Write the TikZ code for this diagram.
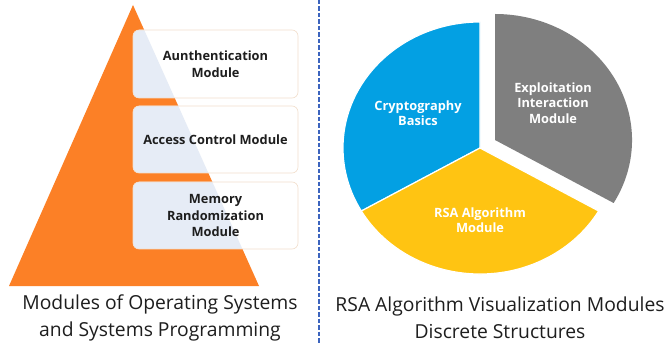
\documentclass[tikz,border=0pt]{standalone}
\usepackage{fontspec}
\setmainfont{Open Sans}
\definecolor{pyrorange}{RGB}{252,128,38}
\definecolor{boxtint}{RGB}{230,236,246}
\definecolor{boxedge}{RGB}{242,222,204}
\definecolor{pieblue}{RGB}{3,160,227}
\definecolor{pieyellow}{RGB}{255,196,18}
\definecolor{piegray}{RGB}{127,127,127}
\definecolor{divblue}{RGB}{60,100,190}
\definecolor{inktext}{RGB}{30,30,30}
\begin{document}
\begin{tikzpicture}[x=1pt,y=-1pt,
  modbox/.style={draw=boxedge, line width=0.6pt, fill=white, rounded corners=6pt,
    minimum width=165pt, inner sep=0pt,
    path picture={\fill[boxtint] (apex) -- (baseR) -- (baseL) -- cycle;}},
  boxtext/.style={font=\bfseries\fontsize{12.8}{16.5}\selectfont, align=center, text=inktext},
  pietext/.style={font=\bfseries\fontsize{12.8}{15.5}\selectfont, align=center, text=white},
  caption/.style={font=\fontsize{19.3}{27.5}\selectfont, align=center, text=inktext}]
\useasboundingbox (0,0) rectangle (671,344);
\fill[white] (0,0) rectangle (671,344);

% pyramid
\coordinate (apex) at (133,5);
\coordinate (baseR) at (259,286);
\coordinate (baseL) at (9,286);
\fill[pyrorange] (apex) -- (baseR) -- (baseL) -- cycle;

% module boxes on the pyramid
\node[modbox, minimum height=68pt, boxtext] (auth) at (215.5,64) {Aunthentication\\Module};
\node[modbox, minimum height=67pt, boxtext] (access) at (215.5,139.5) {Access Control Module};
\node[modbox, minimum height=67pt, boxtext] (memory) at (215.5,215.5) {Memory\\Randomization\\Module};

% dashed divider
\coordinate (divtop) at (319,0);
\coordinate (divbot) at (319,344);
\draw[divblue, line width=1.3pt, dash pattern=on 4.5pt off 2pt] (divtop) -- (divbot);

% pie chart
\begin{scope}[shift={(480,148)}, yscale=-1]
  \fill[pieblue, draw=white, line width=1.2pt] (0,0) -- (90:137 and 126)
    arc[start angle=90, end angle=210, x radius=137, y radius=126] -- cycle;
  \fill[pieyellow, draw=white, line width=1.2pt] (0,0) -- (210:137 and 126)
    arc[start angle=210, end angle=330, x radius=137, y radius=126] -- cycle;
  \begin{scope}[shift={(15,8)}]
    \fill[piegray] (0,0) -- (-30:137 and 126)
      arc[start angle=-30, end angle=90, x radius=137, y radius=126] -- cycle;
  \end{scope}
\end{scope}
\node[pietext] (crypto) at (418,113) {Cryptography\\Basics};
\node[pietext] (exploit) at (553,103) {Exploitation\\Interaction\\Module};
\node[pietext] (rsa) at (480,220) {RSA Algorithm\\Module};

% captions
\node[caption] (capL) at (160,318) {Modules of Operating Systems\\and Systems Programming};
\node[caption] (capR) at (500,318) {RSA Algorithm Visualization Modules\\Discrete Structures};
\end{tikzpicture}
\end{document}
